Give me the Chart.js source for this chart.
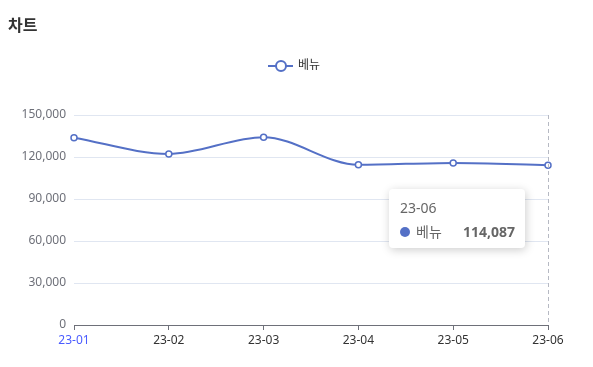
<!DOCTYPE html>
<html>
<head>
<meta charset="utf-8">
<script src="https://cdn.jsdelivr.net/npm/chart.js@4"></script>
<style>
  html, body { margin: 0; padding: 0; background: #fff; }
  #wrap { position: relative; width: 593px; height: 367px; }
  #tip {
    position: absolute; display: none; box-sizing: border-box;
    width: 136px; height: 59px; padding: 10px 10px 0 11px;
    background: #fff; border-radius: 4px;
    box-shadow: 1px 2px 10px rgba(0,0,0,0.2);
    font-family: "Noto Sans", "Noto Sans CJK KR", sans-serif; color: #666;
  }
  #tip .t { font-size: 14px; line-height: 18px; }
  #tip .row { display: flex; align-items: center; margin-top: 6px; font-size: 14px; line-height: 18px; }
  #tip .dot { width: 10px; height: 10px; border-radius: 50%; margin-right: 6px; }
  #tip .v { margin-left: auto; font-weight: bold; }
</style>
</head>
<body>
<div id="wrap">
  <canvas id="myChart" width="593" height="367"></canvas>
  <div id="tip"></div>
</div>
<script>
const chartTitle = "차트";
const seriesName = "베뉴";
const months = ["23-01", "23-02", "23-03", "23-04", "23-05", "23-06"];
const values = [133800, 122200, 134100, 114400, 115800, 114087];
const yTicks = [0, 30000, 60000, 90000, 120000, 150000];
const activeIndex = 5;

const blue = "#5470c6";
const font = "'Noto Sans', 'Noto Sans CJK KR', sans-serif";

const extras = {
  id: "extras",
  afterDatasetsDraw(chart) {
    const ctx = chart.ctx;
    const area = chart.chartArea;
    const x = chart.scales.x.getPixelForValue(activeIndex);
    // axis pointer
    ctx.save();
    ctx.strokeStyle = "#b6b9c3";
    ctx.lineWidth = 1;
    ctx.setLineDash([4, 3]);
    ctx.beginPath();
    ctx.moveTo(Math.round(x) + 0.5, area.top);
    ctx.lineTo(Math.round(x) + 0.5, area.bottom);
    ctx.stroke();
    ctx.restore();
  },
  afterDraw(chart) {
    const ctx = chart.ctx;
    ctx.save();
    // title
    ctx.fillStyle = "#333";
    ctx.font = "bold 16px " + font;
    ctx.textBaseline = "middle";
    ctx.textAlign = "left";
    ctx.fillText(chartTitle, 8, 26);
    // legend
    const cx = 281, cy = 66;
    ctx.strokeStyle = blue;
    ctx.lineWidth = 2;
    ctx.beginPath();
    ctx.moveTo(268, cy);
    ctx.lineTo(293, cy);
    ctx.stroke();
    ctx.fillStyle = "#fff";
    ctx.beginPath();
    ctx.arc(cx, cy, 5, 0, Math.PI * 2);
    ctx.fill();
    ctx.stroke();
    ctx.fillStyle = "#333";
    ctx.font = "12px " + font;
    ctx.fillText(seriesName, 298, cy);
    ctx.restore();
  }
};

const ctx = document.getElementById("myChart");

const chart = new Chart(ctx, {
  type: "line",
  data: {
    labels: months,
    datasets: [
      {
        label: seriesName,
        data: values,
        borderColor: blue,
        borderWidth: 2,
        cubicInterpolationMode: "monotone",
        pointRadius: 3,
        pointBorderWidth: 1.5,
        pointBackgroundColor: "#fff",
        pointBorderColor: blue,
        fill: false,
      },
    ],
  },
  options: {
    responsive: false,
    animation: false,
    events: [],
    layout: { padding: { top: 115, right: 45, left: 0, bottom: 0 } },
    plugins: {
      legend: { display: false },
      title: { display: false },
      tooltip: { enabled: false },
    },
    scales: {
      x: {
        offset: false,
        afterFit: (s) => { s.height = 42; },
        grid: { display: true, drawOnChartArea: false, drawTicks: true, tickLength: 5, color: "#6e7079" },
        border: { display: true, color: "#6e7079", width: 1 },
        ticks: {
          padding: 3,
          maxRotation: 0,
          autoSkip: false,
          font: { size: 12, family: font },
          color: (c) => (c.index === 0 ? "#4a5cff" : "#333"),
        },
      },
      y: {
        min: 0,
        max: 150000,
        afterFit: (s) => { s.width = 74; },
        afterBuildTicks: (s) => { s.ticks = yTicks.map((v) => ({ value: v })); },
        grid: { color: "#e0e6f1", drawTicks: false },
        border: { display: false },
        ticks: {
          padding: 8,
          font: { size: 12, family: font },
          color: "#6e7079",
          callback: (v) => v.toLocaleString("en-US"),
        },
      },
    },
  },
  plugins: [extras],
});

// static tooltip for the active month
const tip = document.getElementById("tip");
const px = chart.scales.x.getPixelForValue(activeIndex);
const py = chart.scales.y.getPixelForValue(values[activeIndex]);
tip.innerHTML =
  `<div class="t">${months[activeIndex]}</div>` +
  `<div class="row"><span class="dot" style="background:${blue}"></span>${seriesName}` +
  `<span class="v">${values[activeIndex].toLocaleString("en-US")}</span></div>`;
tip.style.left = (px - 159) + "px";
tip.style.top = (py + 24) + "px";
tip.style.display = "block";
</script>
</body>
</html>
